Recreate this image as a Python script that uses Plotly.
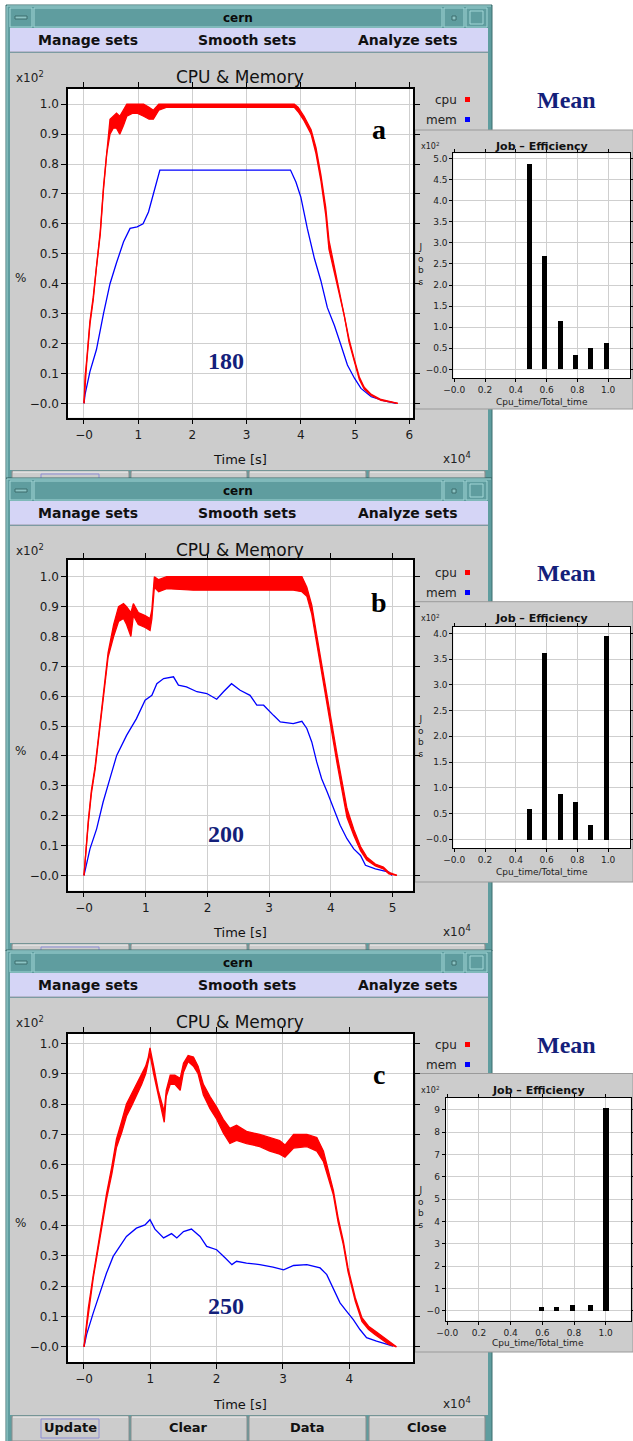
import plotly.graph_objects as go

W, H = 633, 1441

# ---------------- data: time in 1e4 s, usage in 1e2 % ----------------
# Panel a (180 jobs)
cpu_a_t = [0, 0.02, 0.05, 0.11, 0.17, 0.23, 0.30, 0.36, 0.42, 0.48, 0.54, 0.60, 0.66, 0.73, 0.79,
           0.90, 0.98, 1.10, 1.20, 1.28, 1.38, 1.53, 2.00, 2.64, 3.30, 3.88, 3.95, 4.06, 4.19, 4.28,
           4.37, 4.46, 4.52, 4.62, 4.71, 4.80, 4.89, 4.99, 5.08, 5.17, 5.30, 5.48, 5.64, 5.79]
cpu_a_hi = [0, 0.09, 0.145, 0.275, 0.355, 0.465, 0.575, 0.725, 0.845, 0.95, 0.96, 0.97, 0.96, 0.98, 1.00,
            1.00, 1.00, 1.00, 0.99, 0.98, 1.00, 1.00, 1.00, 1.00, 1.00, 1.00, 0.99, 0.96, 0.915, 0.855,
            0.765, 0.655, 0.545, 0.455, 0.385, 0.305, 0.215, 0.145, 0.088, 0.054, 0.03, 0.013, 0.007, 0.0]
cpu_a_lo = [0, 0.06, 0.135, 0.265, 0.345, 0.455, 0.565, 0.715, 0.835, 0.90, 0.92, 0.92, 0.90, 0.93, 0.96,
            0.97, 0.97, 0.96, 0.95, 0.95, 0.98, 0.99, 0.99, 0.99, 0.99, 0.99, 0.975, 0.945, 0.90, 0.835,
            0.745, 0.63, 0.515, 0.44, 0.37, 0.295, 0.205, 0.135, 0.08, 0.048, 0.026, 0.010, 0.005, 0.0]
mem_a_t = [0, 0.02, 0.11, 0.23, 0.36, 0.48, 0.60, 0.73, 0.85, 0.98, 1.09, 1.19, 1.28, 1.40, 3.81,
           3.91, 4.00, 4.12, 4.25, 4.37, 4.49, 4.62, 4.74, 4.86, 4.99, 5.11, 5.30, 5.54, 5.76]
mem_a = [0, 0.03, 0.106, 0.18, 0.30, 0.40, 0.47, 0.54, 0.585, 0.59, 0.60, 0.64, 0.70, 0.78, 0.78,
         0.74, 0.69, 0.585, 0.485, 0.41, 0.32, 0.26, 0.195, 0.128, 0.084, 0.05, 0.022, 0.008, 0.0]

# Panel b (200 jobs)
cpu_b_t = [0, 0.03, 0.07, 0.12, 0.18, 0.23, 0.29, 0.34, 0.39, 0.48, 0.56, 0.64, 0.69, 0.76, 0.80,
           0.88, 0.99, 1.07, 1.10, 1.14, 1.21, 1.34, 1.77, 2.31, 2.85, 3.39, 3.53, 3.61, 3.69, 3.77,
           3.85, 3.94, 4.02, 4.10, 4.18, 4.26, 4.37, 4.48, 4.58, 4.72, 4.85, 4.94, 5.07]
cpu_b_hi = [0, 0.095, 0.185, 0.285, 0.365, 0.455, 0.565, 0.655, 0.745, 0.84, 0.90, 0.91, 0.90, 0.88, 0.91,
            0.88, 0.87, 0.86, 0.89, 1.00, 0.99, 1.00, 1.00, 1.00, 1.00, 1.00, 1.00, 0.965, 0.905, 0.805,
            0.705, 0.595, 0.495, 0.405, 0.315, 0.225, 0.155, 0.097, 0.062, 0.038, 0.028, 0.01, 0.0]
cpu_b_lo = [0, 0.085, 0.175, 0.275, 0.355, 0.445, 0.555, 0.645, 0.73, 0.80, 0.85, 0.86, 0.84, 0.80, 0.87,
            0.84, 0.83, 0.82, 0.86, 0.965, 0.95, 0.96, 0.955, 0.955, 0.955, 0.955, 0.95, 0.935, 0.875, 0.775,
            0.675, 0.565, 0.465, 0.375, 0.285, 0.195, 0.135, 0.083, 0.052, 0.032, 0.022, 0.005, 0.0]
mem_b_t = [0, 0.027, 0.097, 0.205, 0.31, 0.42, 0.53, 0.69, 0.85, 0.99, 1.10, 1.18, 1.29, 1.45, 1.53,
           1.66, 1.83, 1.99, 2.15, 2.26, 2.39, 2.53, 2.69, 2.80, 2.91, 3.07, 3.18, 3.39, 3.53, 3.61,
           3.69, 3.77, 3.85, 3.94, 4.04, 4.15, 4.26, 4.37, 4.48, 4.56, 4.72, 4.94, 4.99]
mem_b = [0, 0.022, 0.089, 0.156, 0.246, 0.324, 0.402, 0.469, 0.525, 0.587, 0.603, 0.642, 0.659, 0.665, 0.637,
         0.631, 0.615, 0.609, 0.59, 0.615, 0.642, 0.62, 0.603, 0.57, 0.57, 0.536, 0.514, 0.508, 0.516, 0.492,
         0.447, 0.38, 0.324, 0.279, 0.223, 0.168, 0.123, 0.089, 0.067, 0.034, 0.022, 0.011, 0.0]

# Panel c (250 jobs)
cpu_c_t = [0, 0.03, 0.065, 0.14, 0.19, 0.27, 0.34, 0.42, 0.49, 0.57, 0.64, 0.72, 0.79, 0.87, 0.93,
           0.97, 0.995, 1.05, 1.12, 1.21, 1.24, 1.30, 1.37, 1.45, 1.50, 1.57, 1.65, 1.72, 1.80, 1.90,
           2.00, 2.10, 2.20, 2.30, 2.45, 2.65, 2.80, 2.95, 3.03, 3.16, 3.36, 3.51, 3.61, 3.68, 3.76,
           3.83, 3.91, 3.98, 4.09, 4.19, 4.29, 4.39, 4.49, 4.59, 4.71]
cpu_c_hi = [0, 0.065, 0.128, 0.237, 0.305, 0.405, 0.505, 0.595, 0.685, 0.745, 0.80, 0.835, 0.865, 0.895, 0.925,
            0.955, 0.985, 0.925, 0.845, 0.775, 0.845, 0.895, 0.895, 0.885, 0.935, 0.96, 0.955, 0.925, 0.865, 0.825,
            0.79, 0.75, 0.72, 0.73, 0.71, 0.70, 0.69, 0.68, 0.665, 0.70, 0.70, 0.69, 0.645, 0.585, 0.515,
            0.427, 0.348, 0.26, 0.162, 0.096, 0.068, 0.052, 0.036, 0.017, 0.0]
cpu_c_lo = [0, 0.05, 0.118, 0.227, 0.292, 0.39, 0.487, 0.57, 0.657, 0.707, 0.76, 0.795, 0.827, 0.865, 0.90,
            0.935, 0.965, 0.90, 0.825, 0.74, 0.825, 0.865, 0.865, 0.845, 0.905, 0.94, 0.925, 0.90, 0.83, 0.785,
            0.75, 0.705, 0.67, 0.68, 0.67, 0.66, 0.645, 0.635, 0.625, 0.655, 0.66, 0.645, 0.61, 0.56, 0.50,
            0.412, 0.336, 0.248, 0.15, 0.084, 0.057, 0.04, 0.024, 0.009, 0.0]
mem_c_t = [0, 0.04, 0.14, 0.24, 0.34, 0.44, 0.54, 0.64, 0.79, 0.92, 0.995, 1.07, 1.20, 1.32, 1.40,
           1.50, 1.62, 1.75, 1.85, 2.00, 2.13, 2.23, 2.30, 2.45, 2.65, 2.85, 3.01, 3.16, 3.36, 3.56,
           3.66, 3.76, 3.86, 3.96, 4.06, 4.16, 4.26, 4.41, 4.66]
mem_c = [0, 0.041, 0.112, 0.178, 0.243, 0.298, 0.331, 0.364, 0.391, 0.402, 0.419, 0.388, 0.359, 0.373, 0.359,
         0.38, 0.388, 0.364, 0.331, 0.32, 0.293, 0.271, 0.282, 0.276, 0.271, 0.263, 0.254, 0.268, 0.271, 0.26,
         0.238, 0.189, 0.145, 0.117, 0.09, 0.057, 0.03, 0.019, 0.002]

# Job efficiency histograms (jobs in 1e2)
eff_ab = [0.49, 0.59, 0.69, 0.79, 0.89, 0.99]
jobs_a = [4.86, 2.67, 1.15, 0.33, 0.49, 0.62]
jobs_b = [0.60, 3.62, 0.88, 0.74, 0.28, 3.96]
eff_c = [0.59, 0.69, 0.79, 0.90, 1.00]
jobs_c = [0.20, 0.20, 0.28, 0.25, 9.12]

# tick labels
main_y_vals = [0.0, 0.1, 0.2, 0.3, 0.4, 0.5, 0.6, 0.7, 0.8, 0.9, 1.0]
main_y_text = ["−0.0", "0.1", "0.2", "0.3", "0.4", "0.5", "0.6", "0.7", "0.8", "0.9", "1.0"]
main_x_vals_a = [0, 1, 2, 3, 4, 5, 6]
main_x_vals_b = [0, 1, 2, 3, 4, 5]
main_x_vals_c = [0, 1, 2, 3, 4]
main_x_text = ["−0", "1", "2", "3", "4", "5", "6"]
eff_x_vals = [0.0, 0.2, 0.4, 0.6, 0.8, 1.0]
eff_x_text = ["−0.0", "0.2", "0.4", "0.6", "0.8", "1.0"]
jobs_y_vals_a = [0.0, 0.5, 1.0, 1.5, 2.0, 2.5, 3.0, 3.5, 4.0, 4.5, 5.0]
jobs_y_text_a = ["−0.0", "0.5", "1.0", "1.5", "2.0", "2.5", "3.0", "3.5", "4.0", "4.5", "5.0"]
jobs_y_vals_b = [0.0, 0.5, 1.0, 1.5, 2.0, 2.5, 3.0, 3.5, 4.0]
jobs_y_text_b = ["−0.0", "0.5", "1.0", "1.5", "2.0", "2.5", "3.0", "3.5", "4.0"]
jobs_y_vals_c = [0, 1, 2, 3, 4, 5, 6, 7, 8, 9]
jobs_y_text_c = ["−0", "1", "2", "3", "4", "5", "6", "7", "8", "9"]

job_counts = ["180", "200", "250"]
panel_letters = ["a", "b", "c"]

# ---------------- helpers ----------------
FONT = "DejaVu Sans"
SERIF = "Liberation Serif"
TEAL = "#5f9d9f"
TEAL_LT = "#a2d6d6"
TEAL_DK = "#3d6c6c"
LAV = "#d5d5f6"
GREY = "#cccccc"
GRID = "#cfcfcf"
NAVY = "#13207a"


def X(p):
    return p / W


def Y(p):
    return 1 - p / H


shapes = []
ann = []


def rect(x0, y0, x1, y1, fill=None, line=None, lw=1):
    shapes.append(dict(type="rect", xref="paper", yref="paper", layer="below",
                       x0=X(x0), x1=X(x1), y0=Y(y1), y1=Y(y0),
                       fillcolor=fill if fill else "rgba(0,0,0,0)",
                       line=dict(color=line if line else "rgba(0,0,0,0)", width=lw if line else 0)))


def seg(x0, y0, x1, y1, color, lw=1):
    shapes.append(dict(type="line", xref="paper", yref="paper", layer="below",
                       x0=X(x0), x1=X(x1), y0=Y(y0), y1=Y(y1), line=dict(color=color, width=lw)))


def text(x, y, s, size, color="#111111", family=FONT, xanchor="center", yanchor="middle"):
    ann.append(dict(xref="paper", yref="paper", x=X(x), y=Y(y), text="<span>" + s + "</span>",
                    showarrow=False, font=dict(size=size, color=color, family=family),
                    xanchor=xanchor, yanchor=yanchor))


def window(top, bottom, button_text):
    rect(6, top, 492, bottom, TEAL, TEAL_DK, 1)
    seg(7, top + 1, 491, top + 1, TEAL_LT)
    seg(7, top + 1, 7, bottom, TEAL_LT)
    # title bar pieces
    rect(10, top + 3, 32, top + 22, TEAL, TEAL_LT)
    rect(15, top + 11, 27, top + 14, "#8cc4c4", TEAL_DK)
    rect(34, top + 3, 442, top + 22, TEAL, TEAL_LT)
    rect(444, top + 3, 464, top + 22, TEAL, TEAL_LT)
    rect(452, top + 11, 456, top + 15, "#8cc4c4", TEAL_DK)
    rect(466, top + 3, 487, top + 22, TEAL, TEAL_LT)
    rect(470, top + 6, 483, top + 19, TEAL, TEAL_LT)
    text(238, top + 13.5, "<b>cern</b>", 12, "#0a0a0a")
    # menu bar
    rect(10, top + 23, 488, top + 47, LAV)
    seg(10, top + 47, 488, top + 47, "#9a9aa6")
    text(88, top + 35, "<b>Manage sets</b>", 14, "#111111")
    text(247, top + 35, "<b>Smooth sets</b>", 14, "#111111")
    text(408, top + 35, "<b>Analyze sets</b>", 14, "#111111")
    # content
    rect(10, top + 48, 488, top + 465, GREY)
    # button row
    bx = [(12, 129), (131, 247), (249, 366), (369, 485)]
    for (a0, a1) in bx:
        rect(a0, top + 466, a1, top + 491, GREY, "#8c8c8c")
        seg(a0 + 1, top + 467, a1 - 1, top + 467, "#f2f2f2")
    rect(41, top + 469, 99, top + 488, None, "#8e8ed6")
    if button_text:
        labels = ["Update", "Clear", "Data", "Close"]
        for (a0, a1), lab in zip(bx, labels):
            text((a0 + a1) / 2, top + 477.5, "<b>" + lab + "</b>", 13, "#111111")


window(5, 478, False)
window(478, 951, False)
window(950, 1445, True)

# panel geometry (pixels)
panels = [
    dict(off=0, box=(68, 89, 413, 417.7), xr=[-0.295, 6.07], yr=[-0.048, 1.051],
         xv=main_x_vals_a,
         ipanel=(415, 130, 633, 409), ibox=(453.3, 153.3, 630, 378.3), ixr=[-0.006, 1.142], iyr=[-0.21, 5.12],
         iyv=jobs_y_vals_a, iyt=jobs_y_text_a, ititle=146.5, ixt=402.5,
         cpu=(cpu_a_t, cpu_a_lo, cpu_a_hi), mem=(mem_a_t, mem_a), bars=(eff_ab, jobs_a)),
    dict(off=473, box=(68, 559.7, 413, 890.7), xr=[-0.259, 5.33], yr=[-0.051, 1.057],
         xv=main_x_vals_b,
         ipanel=(415, 601.7, 633, 882), ibox=(453.3, 626.7, 630, 848.3), ixr=[-0.006, 1.142], iyr=[-0.175, 4.13],
         iyv=jobs_y_vals_b, iyt=jobs_y_text_b, ititle=618.3, ixt=872.3,
         cpu=(cpu_b_t, cpu_b_lo, cpu_b_hi), mem=(mem_b_t, mem_b), bars=(eff_ab, jobs_b)),
    dict(off=945, box=(68, 1034, 413, 1362.3), xr=[-0.241, 4.96], yr=[-0.051, 1.031],
         xv=main_x_vals_c,
         ipanel=(415, 1073.5, 633, 1352), ibox=(445.7, 1097.7, 630.7, 1320.7), ixr=[-0.01, 1.158], iyr=[-0.45, 9.55],
         iyv=jobs_y_vals_c, iyt=jobs_y_text_c, ititle=1090, ixt=1343.3,
         cpu=(cpu_c_t, cpu_c_lo, cpu_c_hi), mem=(mem_c_t, mem_c), bars=(eff_c, jobs_c)),
]

fig = go.Figure()
layout_axes = {}

for i, p in enumerate(panels):
    off = p["off"]
    # inset grey panel
    x0, y0, x1, y1 = p["ipanel"]
    rect(x0, y0, x1, y1, GREY, "#9a9a9a")
    # legend + labels
    text(30, 77 + off, "x10<sup>2</sup>", 12, "#222222")
    text(240, 77 + off, "CPU & Memory", 17, "#111111")
    text(20, 278 + off, "%", 12, "#222222")
    text(240, 459 + off, "Time [s]", 13, "#111111")
    text(457, 458 + off, "x10<sup>4</sup>", 12, "#222222")
    text(459, 100 + off, "cpu", 12, "#222222", xanchor="right")
    rect(465, 97 + off, 470, 102 + off, "#ff0000")
    text(459, 120 + off, "mem", 12, "#222222", xanchor="right")
    rect(465, 117 + off, 470, 122 + off, "#0000ff")
    text(566, 100 + off, "<b>Mean</b>", 24, NAVY, family=SERIF)
    text(379, 129 + off, "<b>" + panel_letters[i] + "</b>", 28, "#000000", family=SERIF)
    text(226, 361 + off, "<b>" + job_counts[i] + "</b>", 24, NAVY, family=SERIF)
    # inset labels
    bx0, by0, bx1, by1 = p["ibox"]
    text((bx0 + bx1) / 2, p["ititle"], "<b>Job – Efficiency</b>", 11, "#111111")
    text(430, p["ititle"], "x10<sup>2</sup>", 8, "#222222")
    text(420.7, (y0 + y1) / 2 - 5, "J<br>o<br>b<br>s", 9, "#222222")
    text((bx0 + bx1) / 2, p["ixt"], "Cpu_time/Total_time", 9, "#222222")

    mx = 2 * i + 1
    ix = 2 * i + 2
    sx = "" if mx == 1 else str(mx)
    # main axes
    X0, Y0, X1, Y1 = p["box"]
    layout_axes["xaxis" + sx] = dict(
        domain=[X(X0), X(X1)], range=p["xr"], anchor="y" + sx, automargin=False,
        tickvals=p["xv"], ticktext=main_x_text[:len(p["xv"])],
        showgrid=True, gridcolor=GRID, gridwidth=1, zeroline=False,
        showline=True, linecolor="#000000", linewidth=1.5, mirror="ticks",
        ticks="outside", ticklen=5, tickcolor="#000000",
        tickfont=dict(size=12, family=FONT, color="#1a1a1a"))
    layout_axes["yaxis" + sx] = dict(
        domain=[Y(Y1), Y(Y0)], range=p["yr"], anchor="x" + sx, automargin=False,
        tickvals=main_y_vals, ticktext=main_y_text,
        showgrid=True, gridcolor=GRID, gridwidth=1, zeroline=False,
        showline=True, linecolor="#000000", linewidth=1.5, mirror="ticks",
        ticks="outside", ticklen=5, tickcolor="#000000",
        tickfont=dict(size=12, family=FONT, color="#1a1a1a"))
    rect(X0, Y0, X1, Y1, "#ffffff")
    # inset axes
    si = str(ix)
    layout_axes["xaxis" + si] = dict(
        domain=[X(bx0), X(bx1)], range=p["ixr"], anchor="y" + si, automargin=False,
        tickvals=eff_x_vals, ticktext=eff_x_text,
        showgrid=True, gridcolor=GRID, gridwidth=1, zeroline=False,
        showline=True, linecolor="#000000", linewidth=1, mirror="ticks",
        ticks="outside", ticklen=3, tickcolor="#000000",
        tickfont=dict(size=9, family=FONT, color="#222222"))
    layout_axes["yaxis" + si] = dict(
        domain=[Y(by1), Y(by0)], range=p["iyr"], anchor="x" + si, automargin=False,
        tickvals=p["iyv"], ticktext=p["iyt"],
        showgrid=True, gridcolor=GRID, gridwidth=1, zeroline=False,
        showline=True, linecolor="#000000", linewidth=1, mirror="ticks",
        ticks="outside", ticklen=3, tickcolor="#000000",
        tickfont=dict(size=9, family=FONT, color="#222222"))
    rect(bx0, by0, bx1, by1, "#ffffff")

    # traces
    xa, ya = "x" + sx, "y" + sx
    mt, mv = p["mem"]
    fig.add_trace(go.Scatter(x=mt, y=mv, mode="lines", line=dict(color="#0000ff", width=1.3),
                             xaxis=xa, yaxis=ya, showlegend=False, hoverinfo="skip"))
    ct, clo, chi = p["cpu"]
    fig.add_trace(go.Scatter(x=ct, y=clo, mode="lines", line=dict(color="#ff0000", width=1.3),
                             xaxis=xa, yaxis=ya, showlegend=False, hoverinfo="skip"))
    fig.add_trace(go.Scatter(x=ct, y=chi, mode="lines", line=dict(color="#ff0000", width=1.3),
                             fill="tonexty", fillcolor="#ff0000",
                             xaxis=xa, yaxis=ya, showlegend=False, hoverinfo="skip"))
    ex, ey = p["bars"]
    fig.add_trace(go.Bar(x=ex, y=ey, width=0.032, marker=dict(color="#000000", line=dict(width=0)),
                         xaxis="x" + si, yaxis="y" + si, showlegend=False, hoverinfo="skip"))

fig.update_layout(
    width=W, height=H, autosize=False,
    margin=dict(l=0, r=0, t=0, b=0, pad=0, autoexpand=False),
    paper_bgcolor="#ffffff", plot_bgcolor="rgba(0,0,0,0)",
    shapes=shapes, annotations=ann, showlegend=False, bargap=0,
    **layout_axes)

fig.write_html("out.html", config={"displayModeBar": False, "responsive": False},
               post_script=("document.documentElement.style.margin='0';"
                            "document.body.style.margin='0';"
                            "document.body.style.overflow='hidden';"
                            "window.scrollTo(0,0);"))
